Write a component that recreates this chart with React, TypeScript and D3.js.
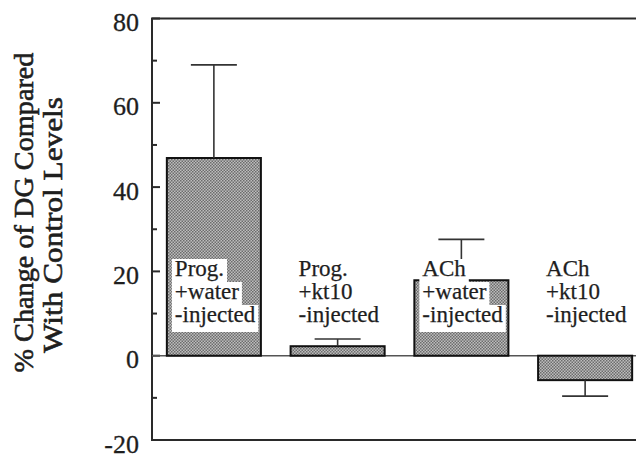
import React from "react";
import * as d3 from "d3";

const labelLines: string[][] = [
  ["Prog.", "+water", "-injected"],
  ["Prog.", "+kt10", "-injected"],
  ["ACh", "+water", "-injected"],
  ["ACh", "+kt10", "-injected"],
];
const categories = labelLines.map((l) => l.join(" "));
const values = [46.9, 2.25, 17.9, -5.8];
const errors = [22.1, 1.7, 9.7, 3.8];
const yTicks = [-20, 0, 20, 40, 60, 80];
const yMinorTicks = [-10, 10, 30, 50, 70];
const titleLines = ["% Change of DG Compared", "With Control Levels"];

const W = 636;
const H = 454;
const FONT = "Liberation Serif";

let ctx: CanvasRenderingContext2D | null = null;
function measure(text: string, size: number): number {
  if (!ctx) ctx = document.createElement("canvas").getContext("2d");
  if (!ctx) return text.length * size * 0.5;
  ctx.font = `${size}px "${FONT}"`;
  return ctx.measureText(text).width;
}

export default function App() {
  const axisX = 152;
  const y = d3.scaleLinear().domain([-20, 80]).range([440, 18.5]);
  const x = d3
    .scaleBand<string>()
    .domain(categories)
    .range([axisX, 647])
    .paddingInner(0.24)
    .paddingOuter(0.12);
  const bw = x.bandwidth();
  const frameColor = "#2a2a2a";
  const textColor = "#1e1e1e";
  const baselines = [276, 299, 322];
  const titleX = [33, 62];
  const titleCY = [212.5, 225];
  const titleLen = [320, 256];

  return (
    <svg
      width={W}
      height={H}
      style={{ position: "absolute", left: 0, top: 0, background: "#fff", fontFamily: FONT }}
    >
      <defs>
        <pattern id="stipple" width={3} height={3} patternUnits="userSpaceOnUse">
          <rect width={3} height={3} fill="#bdbdbd" />
          <rect x={0} y={0} width={1.5} height={1.5} fill="#6c6c6c" />
          <rect x={1.5} y={1.5} width={1.5} height={1.5} fill="#6c6c6c" />
        </pattern>
      </defs>

      <path
        d={`M${W},${y(80)}H${axisX}V${y(-20)}H${W}`}
        fill="none"
        stroke={frameColor}
        strokeWidth={2}
      />
      {yTicks.map((t) => (
        <g key={`t${t}`}>
          <line x1={axisX} x2={axisX + 8} y1={y(t)} y2={y(t)} stroke={frameColor} strokeWidth={2} />
          <text
            x={139}
            y={y(t) + 4}
            textAnchor="end"
            dominantBaseline="central"
            fontSize={26}
            fill={textColor}
            stroke={textColor}
            strokeWidth={0.3}
          >
            {t}
          </text>
        </g>
      ))}
      {yMinorTicks.map((t) => (
        <line key={`m${t}`} x1={axisX} x2={axisX + 5} y1={y(t)} y2={y(t)} stroke={frameColor} strokeWidth={2} />
      ))}

      {titleLines.map((line, i) => (
        <text
          key={line}
          transform={`translate(${titleX[i]},${titleCY[i]}) rotate(-90)`}
          textAnchor="middle"
          fontSize={28}
          fill={textColor}
          stroke={textColor}
          strokeWidth={0.6}
          textLength={titleLen[i]}
          lengthAdjust="spacingAndGlyphs"
        >
          {line}
        </text>
      ))}

      <line x1={axisX} x2={W} y1={y(0)} y2={y(0)} stroke="#555" strokeWidth={1.5} />

      {categories.map((c, i) => {
        const v = values[i];
        const x0 = x(c) as number;
        const cx = x0 + bw / 2;
        const ve = v >= 0 ? v + errors[i] : v - errors[i];
        return (
          <g key={c}>
            <rect
              x={x0}
              y={y(Math.max(0, v))}
              width={bw}
              height={Math.abs(y(v) - y(0))}
              fill="url(#stipple)"
              stroke="#111"
              strokeWidth={2}
            />
            <line x1={cx} x2={cx} y1={y(v)} y2={y(ve)} stroke="#333" strokeWidth={1.6} />
            <line x1={cx - 23} x2={cx + 23} y1={y(ve)} y2={y(ve)} stroke="#333" strokeWidth={1.6} />
          </g>
        );
      })}

      {categories.map((c, i) => {
        const lx = (x(c) as number) + 8;
        return (
          <g key={`l${c}`}>
            {labelLines[i].map((line, j) => {
              const len = measure(line, 23);
              const top = baselines[j] - 17;
              const bottom = j === labelLines[i].length - 1 ? baselines[j] + 10 : baselines[j] + 6;
              return (
                <g key={j}>
                  <rect x={lx - 3} y={top} width={len + 6} height={bottom - top} fill="#fff" />
                  <text x={lx} y={baselines[j]} fontSize={23} fill={textColor} stroke={textColor} strokeWidth={0.25}>
                    {line}
                  </text>
                </g>
              );
            })}
          </g>
        );
      })}
    </svg>
  );
}
